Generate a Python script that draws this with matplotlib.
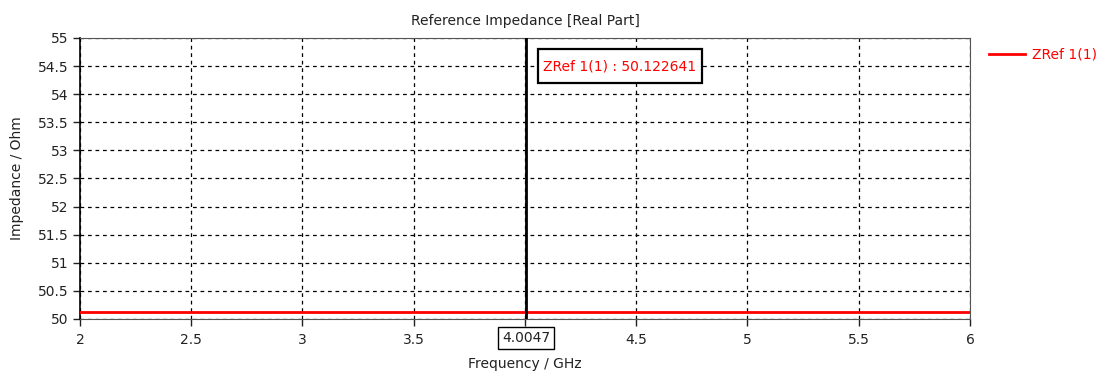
import numpy as np
import matplotlib.pyplot as plt
from matplotlib.patches import Rectangle
from matplotlib.transforms import IdentityTransform

plt.rcParams['font.family'] = ['DejaVu Sans']

# ZRef 1(1) real part over the sweep
freq = [2.0, 3.0, 4.0, 5.0, 6.0]
zref = [50.122641, 50.122641, 50.122641, 50.122641, 50.122641]
marker_freq = 4.0047
marker_val = 50.122641
xticks = [2, 2.5, 3, 3.5, 4, 4.5, 5, 5.5, 6]
xticklabels = ['2', '2.5', '3', '3.5', '', '4.5', '5', '5.5', '6']
yticks = [50, 50.5, 51, 51.5, 52, 52.5, 53, 53.5, 54, 54.5, 55]


def boxed(ax, txt, padx, pady, lw):
    # frame a text item with separate horizontal / vertical padding (pixels)
    ax.figure.canvas.draw()
    bb = txt.get_window_extent()
    r = Rectangle((bb.x0 - padx, bb.y0 - pady), bb.width + 2 * padx, bb.height + 2 * pady,
                  transform=IdentityTransform(), fc='white', ec='black', lw=lw,
                  zorder=5, clip_on=False)
    ax.add_patch(r)


def main():
    fig = plt.figure(figsize=(11.02, 3.72), dpi=100)
    ax = fig.add_axes([0.0726, 0.1425, 0.8076, 0.7555])

    ax.plot(freq, zref, color='red', lw=2, label='ZRef 1(1)', zorder=3)
    ax.axvline(marker_freq, color='black', lw=2, zorder=4)

    ax.set_xlim(2, 6)
    ax.set_ylim(50, 55)
    ax.set_xticks(xticks)
    ax.set_xticklabels(xticklabels)
    ax.set_yticks(yticks)
    ax.set_yticklabels(['%g' % v for v in yticks])
    ax.grid(True, color='black', ls=(0, (3, 3)), lw=0.9)
    ax.tick_params(direction='out', length=5, width=1, labelsize=10, colors='#222222')
    ax.tick_params(axis='x', pad=5)
    ax.tick_params(axis='y', pad=3)

    for s in ['top', 'right', 'bottom']:
        ax.spines[s].set_color('#555555')
    ax.spines['left'].set_color('black')
    ax.spines['left'].set_linewidth(1.2)

    ax.set_title('Reference Impedance [Real Part]', fontsize=10, pad=9, color='#222222')
    ax.set_xlabel('Frequency / GHz', fontsize=10, labelpad=7, color='#222222')
    ax.set_ylabel('Impedance / Ohm', fontsize=10, labelpad=10, color='#222222')

    # marker readout boxes
    t1 = ax.annotate('ZRef 1(1) : %.6f' % marker_val, xy=(marker_freq, 54.5), xycoords='data',
                     xytext=(12.5, 0), textcoords='offset points', ha='left', va='center',
                     color='red', fontsize=10, zorder=6)
    t2 = ax.annotate('%.4f' % marker_freq, xy=(marker_freq, 0), xycoords=('data', 'axes fraction'),
                     xytext=(0, -13.5), textcoords='offset points', ha='center', va='center',
                     fontsize=10, color='#222222', annotation_clip=False, zorder=6)

    leg = ax.legend(loc='upper left', bbox_to_anchor=(1.015, 0.985), frameon=False,
                    fontsize=10, handlelength=2.6, handletextpad=0.5, borderaxespad=0)
    for t in leg.get_texts():
        t.set_color('red')

    boxed(ax, t1, 5, 10, 1.6)
    boxed(ax, t2, 4, 4, 1.0)

    fig.savefig('out.png', dpi=100)


if __name__ == '__main__':
    main()
